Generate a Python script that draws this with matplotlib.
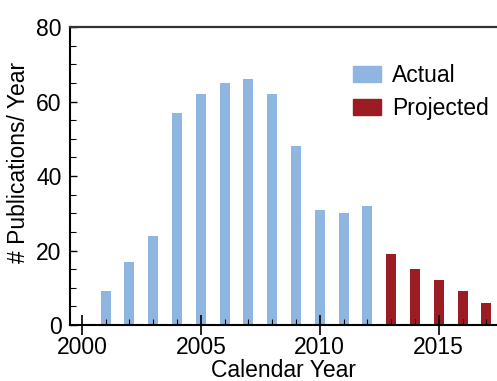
import matplotlib
matplotlib.use('Agg')
import matplotlib.pyplot as plt
from matplotlib.ticker import MultipleLocator
from matplotlib.patches import Patch

plt.rcParams['font.family'] = ['Liberation Sans', 'DejaVu Sans']

actual_years = [2001, 2002, 2003, 2004, 2005, 2006, 2007, 2008, 2009, 2010, 2011, 2012]
actual_counts = [9, 17, 24, 57, 62, 65, 66, 62, 48, 31, 30, 32]
proj_years = [2013, 2014, 2015, 2016, 2017]
proj_counts = [19, 15, 12, 9, 6]

blue = '#8fb5e1'
red = '#9b1c23'
fs = 16.5

fig = plt.figure(figsize=(4.97, 3.81), dpi=100)
ax = fig.add_axes([0.1408, 0.147, 0.8592, 0.782])

ax.bar(actual_years, actual_counts, width=0.42, color=blue)
ax.bar(proj_years, proj_counts, width=0.42, color=red)

ax.set_xlim(1999.5, 2017.45)
ax.set_ylim(0, 80)
ax.spines['right'].set_visible(False)
for s in ['left', 'bottom']:
  ax.spines[s].set_linewidth(1.5)
ax.spines['top'].set_linewidth(1.6)
ax.spines['top'].set_color('#333333')

ax.xaxis.set_major_locator(MultipleLocator(5))
ax.xaxis.set_minor_locator(MultipleLocator(1))
ax.yaxis.set_major_locator(MultipleLocator(20))
ax.yaxis.set_minor_locator(MultipleLocator(5))
ax.tick_params(axis='x', which='major', direction='inout', length=14, width=1.2,
               labelsize=fs, pad=1, top=False)
ax.tick_params(axis='x', which='minor', direction='in', length=4, width=0.8, top=False)
ax.tick_params(axis='y', which='major', direction='in', length=5, width=1.0,
               labelsize=fs, pad=6, right=False)
ax.tick_params(axis='y', which='minor', direction='in', length=4, width=0.8, right=False)

ax.set_xlabel('Calendar Year', fontsize=fs, labelpad=0)
ax.set_ylabel('# Publications/ Year', fontsize=fs)
ax.yaxis.set_label_coords(-0.094, 0.547)

handles = [Patch(color=blue, label='Actual'), Patch(color=red, label='Projected')]
ax.legend(handles=handles, loc='upper left', bbox_to_anchor=(0.663, 0.877),
          frameon=False, fontsize=fs, handlelength=1.22, handleheight=0.7,
          handletextpad=0.48, labelspacing=0.44, borderpad=0, borderaxespad=0)

plt.savefig('out.png', dpi=100)
